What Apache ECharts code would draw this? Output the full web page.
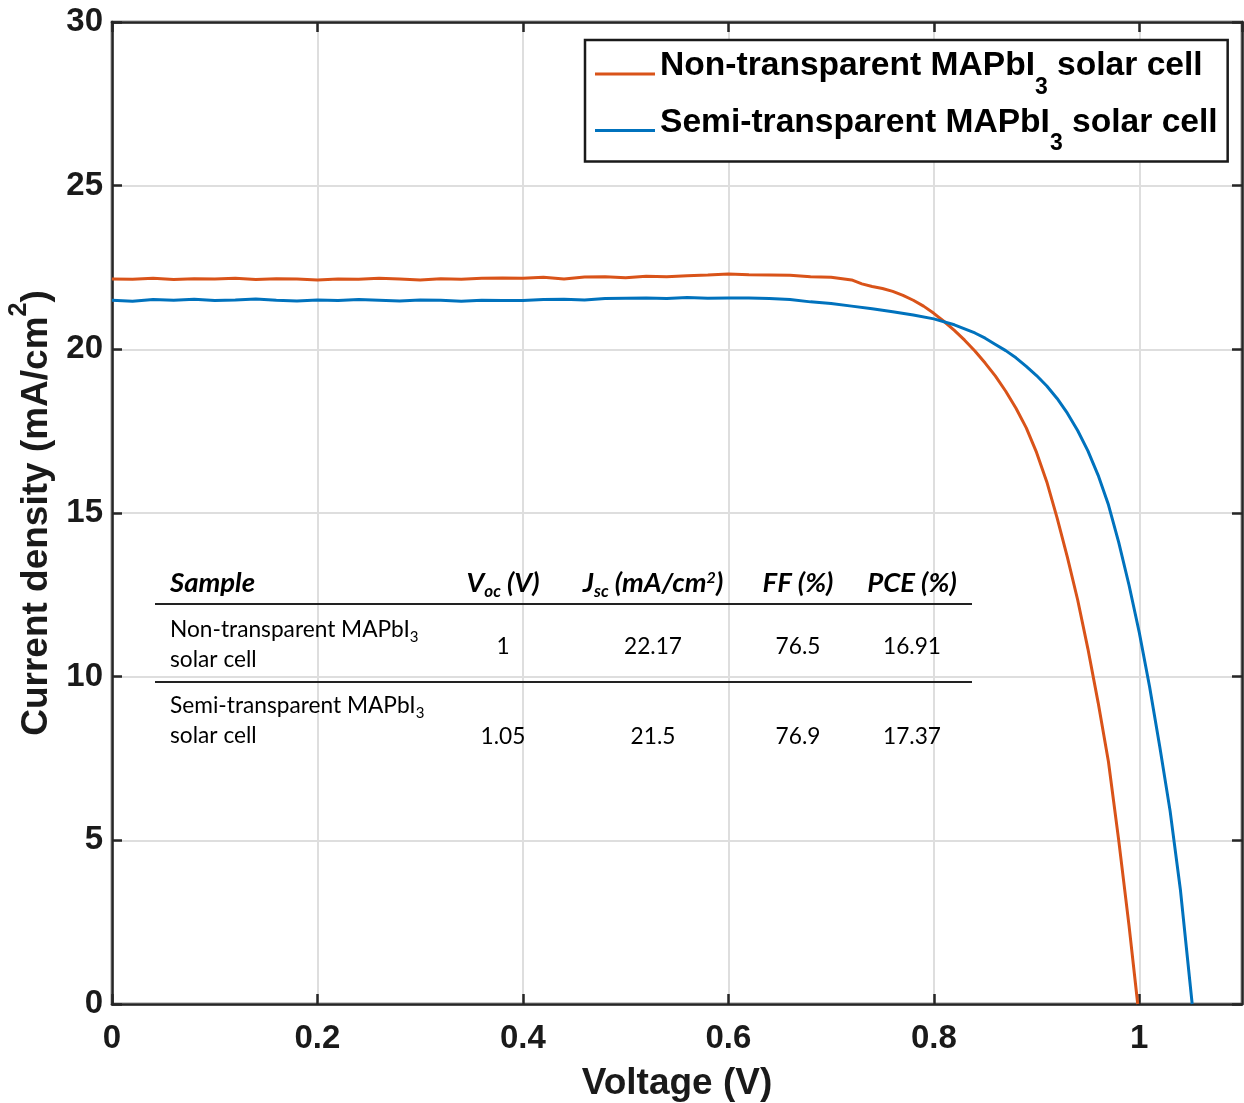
<!DOCTYPE html>
<html><head><meta charset="utf-8">
<script src="https://cdn.jsdelivr.net/npm/echarts@6/dist/echarts.min.js"></script>
<style>html,body{margin:0;padding:0;background:#fff}#c{width:1244px;height:1103px}</style>
</head><body><div id="c"></div>
<script>
// ---- data ----
const voltageNon = [0.00,0.02,0.04,0.06,0.08,0.10,0.12,0.14,0.16,0.18,0.20,0.22,0.24,0.26,0.28,0.30,0.32,0.34,0.36,0.38,0.40,0.42,0.44,0.46,0.48,0.50,0.52,0.54,0.56,0.58,0.60,0.62,0.64,0.66,0.68,0.70,0.72,0.73,0.74,0.75,0.76,0.77,0.78,0.79,0.80,0.81,0.82,0.83,0.84,0.85,0.86,0.87,0.88,0.89,0.90,0.91,0.92,0.93,0.94,0.95,0.96,0.97,0.98,0.99,0.9985];
const currentNon = [22.15,22.14,22.17,22.13,22.16,22.15,22.17,22.13,22.16,22.15,22.12,22.15,22.14,22.17,22.15,22.12,22.16,22.14,22.17,22.18,22.17,22.20,22.15,22.21,22.22,22.19,22.23,22.22,22.25,22.27,22.30,22.28,22.27,22.26,22.22,22.20,22.12,22.00,21.92,21.86,21.77,21.65,21.50,21.32,21.10,20.85,20.58,20.28,19.95,19.58,19.18,18.72,18.20,17.60,16.85,15.95,14.85,13.65,12.35,10.85,9.20,7.40,5.00,2.40,0.00];
const voltageSemi = [0.00,0.02,0.04,0.06,0.08,0.10,0.12,0.14,0.16,0.18,0.20,0.22,0.24,0.26,0.28,0.30,0.32,0.34,0.36,0.38,0.40,0.42,0.44,0.46,0.48,0.50,0.52,0.54,0.56,0.58,0.60,0.62,0.64,0.66,0.68,0.70,0.72,0.74,0.76,0.78,0.80,0.82,0.84,0.85,0.86,0.87,0.88,0.89,0.90,0.91,0.92,0.93,0.94,0.95,0.96,0.97,0.98,0.99,1.00,1.01,1.02,1.03,1.04,1.0515];
const currentSemi = [21.50,21.47,21.52,21.50,21.53,21.49,21.51,21.54,21.50,21.48,21.51,21.49,21.52,21.50,21.48,21.51,21.50,21.47,21.50,21.49,21.49,21.52,21.53,21.51,21.55,21.56,21.57,21.55,21.58,21.56,21.57,21.57,21.55,21.52,21.45,21.40,21.32,21.24,21.15,21.05,20.93,20.75,20.50,20.34,20.15,19.96,19.74,19.48,19.20,18.88,18.50,18.05,17.52,16.90,16.15,15.25,14.10,12.80,11.35,9.70,7.85,5.90,3.50,0.00];
const xTickValues = [0, 0.2, 0.4, 0.6, 0.8, 1];
const yTickValues = [0, 5, 10, 15, 20, 25, 30];
const seriesNames = ['Non-transparent MAPbI3 solar cell', 'Semi-transparent MAPbI3 solar cell'];
const tableHeader = ['Sample', 'Voc (V)', 'Jsc (mA/cm2)', 'FF (%)', 'PCE (%)'];
const tableSampleLine1 = ['Non-transparent MAPbI3', 'Semi-transparent MAPbI3'];
const tableSampleLine2 = ['solar cell', 'solar cell'];
const tableVoc = ['1', '1.05'];
const tableJsc = ['22.17', '21.5'];
const tableFF = ['76.5', '76.9'];
const tablePCE = ['16.91', '17.37'];

// ---- chart ----
const chart = echarts.init(document.getElementById('c'));
const AX = '#262626';
const FONT = 'Liberation Sans, Arial, Helvetica, sans-serif';
const TFONT = 'Lato, Open Sans, sans-serif';

const legendRich = {
  a: {fontSize: 33.6, fontWeight: 'bold', fontFamily: FONT, color: '#000', lineHeight: 40, verticalAlign: 'top'},
  s: {fontSize: 23, fontWeight: 'bold', fontFamily: FONT, color: '#000', padding: [27, 0, 0, 0], verticalAlign: 'top'}
};
function subFmt(name) {
  return name.replace(/^(.*MAPbI)3(.*)$/, '{a|$1}{s|3}{a|$2}');
}

// table graphics
const colX = [503, 653, 798, 912];
const hdrRich = {
  a: {fontSize: 27.5, fontWeight: 'bold', fontStyle: 'italic', fontFamily: TFONT, color: '#000', lineHeight: 30, verticalAlign: 'top'},
  b: {fontSize: 17, fontWeight: 'bold', fontStyle: 'italic', fontFamily: TFONT, color: '#000', padding: [14, 0, 0, 0], verticalAlign: 'top'},
  p: {fontSize: 16, fontWeight: 'bold', fontStyle: 'italic', fontFamily: TFONT, color: '#000', verticalAlign: 'top'}
};
const bodyRich = {
  a: {fontSize: 22.7, fontFamily: TFONT, color: '#000', lineHeight: 28, verticalAlign: 'top'},
  s: {fontSize: 15, fontFamily: TFONT, color: '#000', padding: [12, 0, 0, 0], verticalAlign: 'top'}
};
function hdrFmt(t) {
  if (t.startsWith('Voc')) return '{a|V}{b|oc}{a| (V)}';
  if (t.startsWith('Jsc')) return '{a|J}{b|sc}{a| (mA/cm}{p|2}{a|)}';
  return '{a|' + t + '}';
}
function txt(x, y, text, rich, align) {
  return {type: 'text', z: 50, style: {x: x, y: y, text: text, rich: rich, align: align, verticalAlign: 'middle', textAlign: align, textVerticalAlign: 'middle'}};
}
const graphics = [];
graphics.push(txt(170, 585, hdrFmt(tableHeader[0]), hdrRich, 'left'));
for (let i = 1; i < tableHeader.length; i++) graphics.push(txt(colX[i - 1], 585, hdrFmt(tableHeader[i]), hdrRich, 'center'));
graphics.push({type: 'line', z: 50, shape: {x1: 155, y1: 604, x2: 972, y2: 604}, style: {stroke: '#222', lineWidth: 2}});
graphics.push({type: 'line', z: 50, shape: {x1: 155, y1: 682, x2: 972, y2: 682}, style: {stroke: '#222', lineWidth: 2}});
const rowTop = [632, 708];
const rowVal = [649, 739];
for (let r = 0; r < 2; r++) {
  graphics.push(txt(170, rowTop[r], tableSampleLine1[r].replace(/^(.*MAPbI)3$/, '{a|$1}{s|3}'), bodyRich, 'left'));
  graphics.push(txt(170, rowTop[r] + 30, '{a|' + tableSampleLine2[r] + '}', bodyRich, 'left'));
  const vals = [tableVoc[r], tableJsc[r], tableFF[r], tablePCE[r]];
  for (let c = 0; c < 4; c++) graphics.push(txt(colX[c], rowVal[r], '{a|' + vals[c] + '}', bodyRich, 'center'));
}

const tickLabel = {fontSize: 33, fontWeight: 'bold', fontFamily: FONT, color: '#1a1a1a'};
const option = {
  animation: false,
  backgroundColor: '#fff',
  grid: {left: 112, right: 2, top: 22, bottom: 99, outerBoundsMode: 'none', containLabel: false, show: true, borderColor: AX, borderWidth: 2.5, backgroundColor: 'transparent'},
  legend: {
    orient: 'vertical', left: 585, top: 40, itemWidth: 60, itemHeight: 3, itemGap: 6.5, icon: 'rect',
    padding: [9, 10, 6, 10], borderColor: '#1a1a1a', borderWidth: 2.5, backgroundColor: '#fff',
    data: seriesNames, formatter: subFmt, textStyle: {rich: legendRich, fontSize: 33.6, fontWeight: 'bold', fontFamily: FONT, color: '#000'}
  },
  xAxis: [
    {type: 'value', min: 0, max: 1.1, interval: 0.2, position: 'bottom',
     name: 'Voltage (V)', nameLocation: 'middle', nameGap: 61,
     nameTextStyle: {fontSize: 37, fontWeight: 'bold', fontFamily: FONT, color: '#1a1a1a'},
     axisLine: {show: true, onZero: false, lineStyle: {color: AX, width: 2.5}},
     axisTick: {show: true, inside: true, length: 10, lineStyle: {color: AX, width: 2.5}},
     axisLabel: Object.assign({margin: 18, showMaxLabel: false, formatter: v => (xTickValues.some(t => Math.abs(t - v) < 1e-9) ? String(+v.toFixed(1)) : '')}, tickLabel),
     splitLine: {show: true, lineStyle: {color: '#dedede', width: 2}}},
    {type: 'value', min: 0, max: 1.1, interval: 0.2, position: 'top',
     axisLine: {show: true, onZero: false, lineStyle: {color: AX, width: 2.5}},
     axisTick: {show: true, inside: true, length: 10, lineStyle: {color: AX, width: 2.5}},
     axisLabel: {show: false}, splitLine: {show: false}}
  ],
  yAxis: [
    {type: 'value', min: 0, max: 30, interval: 5, position: 'left',
     name: '{a|Current density (mA/cm}{p|2}{a|)}', nameLocation: 'middle', nameGap: 51, nameRotate: 90,
     nameTextStyle: {fontSize: 37, fontWeight: 'bold', fontFamily: FONT, color: '#1a1a1a', padding: [0, 0, 0, 0],
       rich: {a: {fontSize: 37, fontWeight: 'bold', fontFamily: FONT, color: '#1a1a1a', lineHeight: 40, verticalAlign: 'bottom'},
              p: {fontSize: 25, fontWeight: 'bold', fontFamily: FONT, color: '#1a1a1a', padding: [0, 0, 24, 0], verticalAlign: 'bottom'}}},
     axisLine: {show: true, onZero: false, lineStyle: {color: AX, width: 2.5}},
     axisTick: {show: true, inside: true, length: 10, lineStyle: {color: AX, width: 2.5}},
     axisLabel: Object.assign({margin: 9}, tickLabel),
     splitLine: {show: true, lineStyle: {color: '#dedede', width: 2}}},
    {type: 'value', min: 0, max: 30, interval: 5, position: 'right',
     axisLine: {show: true, onZero: false, lineStyle: {color: AX, width: 2.5}},
     axisTick: {show: true, inside: true, length: 10, lineStyle: {color: AX, width: 2.5}},
     axisLabel: {show: false}, splitLine: {show: false}}
  ],
  series: [
    {name: seriesNames[0], type: 'line', showSymbol: false, symbol: 'none', color: '#D95319', lineStyle: {width: 3, color: '#D95319'},
     data: voltageNon.map((v, i) => [v, currentNon[i]]), z: 3},
    {name: seriesNames[1], type: 'line', showSymbol: false, symbol: 'none', color: '#0072BD', lineStyle: {width: 3, color: '#0072BD'},
     data: voltageSemi.map((v, i) => [v, currentSemi[i]]), z: 4}
  ],
  graphic: graphics
};
chart.setOption(option);
</script></body></html>
